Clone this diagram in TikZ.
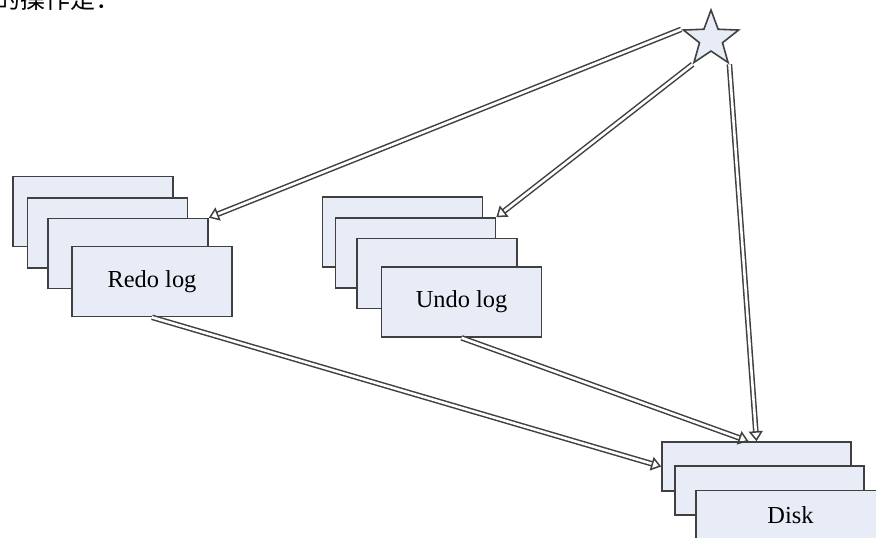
\documentclass[tikz,border=0pt]{standalone}
\usepackage{fontspec}
\setmainfont{Liberation Serif}
\newfontfamily\cjk{Noto Sans CJK SC}
\usetikzlibrary{arrows.meta,shapes.geometric}

\definecolor{boxfill}{RGB}{232,236,246}
\definecolor{boxline}{RGB}{64,64,64}

\begin{document}
\begin{tikzpicture}[
    x=0.5pt, y=-0.5pt,
    font=\fontsize{12.2}{14}\selectfont,
    page/.style={draw=boxline, fill=boxfill, line width=0.8pt, inner sep=0pt,
                 minimum width=80pt, minimum height=35pt},
    dpage/.style={page, minimum width=94.5pt, minimum height=24.5pt},
    flow/.style={draw=boxline, line width=0.75pt, double=white, double distance=1.3pt,
                 -{Triangle[open, length=5pt, width=7pt]}},
  ]
  % --- canvas, pixel grid with y going down ---
  \clip (0,0) rectangle (876,537);

  % --- heading line, cut off at the top ---
  \node[font=\cjk\fontsize{12.5}{14}\selectfont, anchor=base west, inner sep=0pt]
    (head) at (-5,8) {的操作是：};

  % --- redo log pages ---
  \node[page] (r1) at (93,211.5) {};
  \node[page] (r2) at (107.5,233) {};
  \node[page] (r3) at (128,253.5) {};
  \node[page] (r4) at (152,281.5) {Redo log};

  % --- undo log pages ---
  \node[page] (u1) at (402.5,232) {};
  \node[page] (u2) at (415.5,253) {};
  \node[page] (u3) at (437,273.5) {};
  \node[page] (u4) at (461.5,302) {Undo log};

  % --- disk pages ---
  \node[dpage] (d1) at (756.5,466.5) {};
  \node[dpage] (d2) at (769.5,490.5) {};
  \node[dpage] (d3) at (790.5,515) {Disk};

  % --- transaction (star) ---
  \node[star, star points=5, star point ratio=2.4, minimum size=29pt, inner sep=0pt,
        draw=boxline, fill=boxfill, line width=0.8pt] (tx) at (711,39) {};

  % --- flows ---
  \draw[flow] (tx.outer point 2) -- (r3.north east);
  \draw[flow] (tx.outer point 3) -- (u2.north east);
  \draw[flow] (tx.outer point 4) -- (d1.north);
  \draw[flow] (r4.south) -- (d1.west);
  \draw[flow] (u4.south) -- ([xshift=-4pt]d1.north);
\end{tikzpicture}
\end{document}
